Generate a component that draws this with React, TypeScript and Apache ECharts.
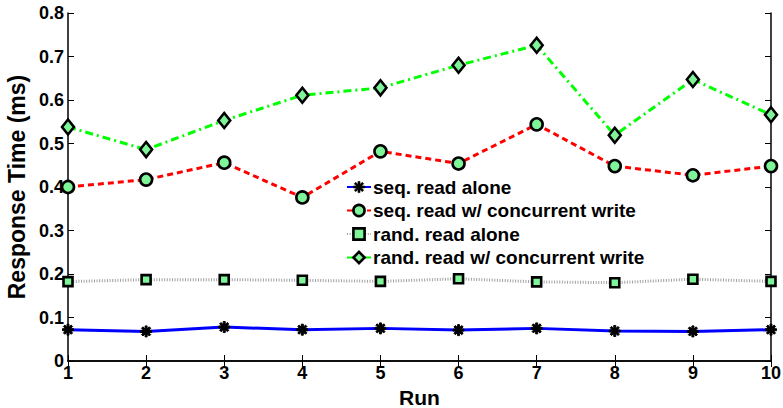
import React, { useEffect, useRef } from "react";
import * as echarts from "echarts";

const runs = [1, 2, 3, 4, 5, 6, 7, 8, 9, 10];
const seqAlone = [0.072, 0.068, 0.078, 0.072, 0.075, 0.071, 0.075, 0.069, 0.068, 0.072];
const seqConc = [0.4, 0.417, 0.456, 0.376, 0.482, 0.454, 0.544, 0.448, 0.427, 0.448];
const randAlone = [0.1825, 0.187, 0.187, 0.1855, 0.183, 0.189, 0.182, 0.18, 0.188, 0.183];
const randConc = [0.538, 0.486, 0.553, 0.611, 0.628, 0.68, 0.726, 0.519, 0.647, 0.566];
const seriesNames = [
  "seq. read alone",
  "seq. read w/ concurrent write",
  "rand. read alone",
  "rand. read w/ concurrent write",
];

function asteriskPath(): string {
  const L = 6;
  const W = 1.1;
  let d = "";
  [0, 45, 90, 135].forEach((deg) => {
    const a = (deg * Math.PI) / 180;
    const c = Math.cos(a);
    const s = Math.sin(a);
    const pts = [
      [-L, -W],
      [L, -W],
      [L, W],
      [-L, W],
    ].map(([x, y]) => [x * c - y * s, x * s + y * c]);
    d +=
      "M" +
      pts.map((p) => p[0].toFixed(3) + " " + p[1].toFixed(3)).join(" L") +
      " Z ";
  });
  return "path://" + d;
}

const FONT = "'Liberation Sans', Arial, Helvetica, sans-serif";
const FILL = "#7ff59a";
const BW = 2.6;

export default function App() {
  const ref = useRef<HTMLDivElement>(null);
  useEffect(() => {
    if (!ref.current) return;
    const chart = echarts.init(ref.current, undefined, { renderer: "svg" });
    const pair = (arr: number[]) => runs.map((r, i) => [r, arr[i]]);
    const axisCommon = {
      axisLine: { show: true, lineStyle: { color: "#000", width: 1.5 } },
      axisTick: { show: true, inside: true, length: 6, lineStyle: { color: "#000", width: 1 } },
      splitLine: { show: false },
    };
    chart.setOption({
      animation: false,
      backgroundColor: "#fff",
      grid: { left: 68, right: 12, top: 13, bottom: 47, containLabel: false, outerBoundsMode: "none" },
      legend: {
        orient: "vertical",
        left: 346,
        top: 177,
        padding: 0,
        itemWidth: 24,
        itemHeight: 14,
        itemGap: 3.5,
        data: seriesNames.map((n, i) =>
          i === 0 ? { name: n, itemStyle: { borderWidth: 0.6, borderColor: "#000" } } : { name: n }
        ),
        itemStyle: { borderColor: "#000", borderWidth: BW },
        textStyle: {
          fontFamily: FONT,
          fontWeight: "bold",
          fontSize: 19,
          color: "#000",
          lineHeight: 20,
          padding: [0, 0, 0, -3],
        },
      },
      xAxis: [
        {
          type: "value",
          min: 1,
          max: 10,
          interval: 1,
          position: "bottom",
          name: "Run",
          nameLocation: "middle",
          nameGap: 20,
          nameTextStyle: {
            fontFamily: FONT,
            fontWeight: "bold",
            fontSize: 21,
            lineHeight: 21,
            color: "#000",
          },
          axisLabel: {
            fontFamily: FONT,
            fontWeight: "bold",
            fontSize: 18,
            color: "#000",
            margin: 3,
          },
          ...axisCommon,
        },
        {
          type: "value",
          min: 1,
          max: 10,
          interval: 1,
          position: "top",
          axisLabel: { show: false },
          ...axisCommon,
        },
      ],
      yAxis: [
        {
          type: "value",
          min: 0,
          max: 0.8,
          interval: 0.1,
          position: "left",
          name: "Response Time (ms)",
          nameLocation: "middle",
          nameGap: 33,
          nameTextStyle: { fontFamily: FONT, fontWeight: "bold", fontSize: 23, color: "#000" },
          axisLabel: {
            fontFamily: FONT,
            fontWeight: "bold",
            fontSize: 18,
            color: "#000",
            margin: 4,
            formatter: (v: number) => (v === 0 ? "0" : v.toFixed(1)),
          },
          ...axisCommon,
        },
        {
          type: "value",
          min: 0,
          max: 0.8,
          interval: 0.1,
          position: "right",
          axisLabel: { show: false },
          ...axisCommon,
        },
      ],
      series: [
        {
          name: seriesNames[0],
          type: "line",
          data: pair(seqAlone),
          symbol: asteriskPath(),
          symbolSize: 11,
          lineStyle: { color: "#0000ff", width: 3, type: "solid" },
          itemStyle: { color: "#000", borderColor: "#000", borderWidth: 1 },
          z: 2,
        },
        {
          name: seriesNames[1],
          type: "line",
          data: pair(seqConc),
          symbol: "circle",
          symbolSize: 12,
          lineStyle: { color: "#ff0000", width: 3, type: [6, 4] },
          itemStyle: { color: FILL, borderColor: "#000", borderWidth: BW },
          z: 3,
        },
        {
          name: seriesNames[2],
          type: "line",
          data: pair(randAlone),
          symbol: "rect",
          symbolSize: 9,
          lineStyle: { color: "#a0a0a0", width: 3, type: [1, 1.6] },
          itemStyle: { color: FILL, borderColor: "#000", borderWidth: BW },
          z: 4,
        },
        {
          name: seriesNames[3],
          type: "line",
          data: pair(randConc),
          symbol: "diamond",
          symbolSize: [12, 15],
          lineStyle: { color: "#00ff00", width: 3, type: [8, 4, 2, 4] },
          itemStyle: { color: FILL, borderColor: "#000", borderWidth: BW },
          z: 5,
        },
      ],
    });
    return () => chart.dispose();
  }, []);
  return (
    <div
      ref={ref}
      style={{ position: "fixed", left: 0, top: 0, width: 783, height: 408, background: "#fff" }}
    />
  );
}
